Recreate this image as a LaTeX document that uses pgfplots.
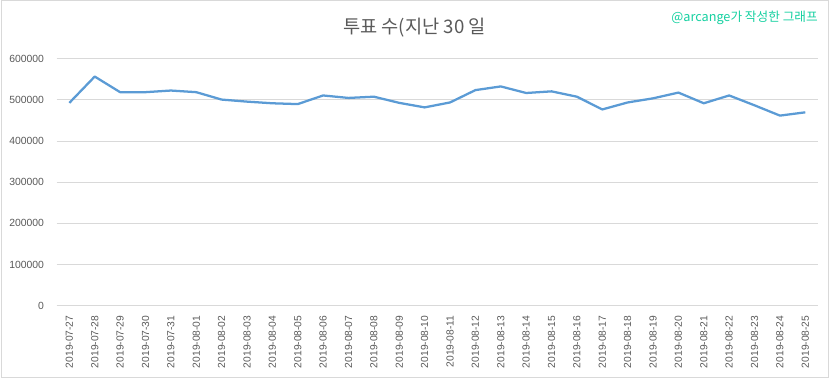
\documentclass[border=0pt]{standalone}
\usepackage{fontspec}
\setmainfont{Liberation Sans}
\newfontfamily\kr{Noto Sans CJK KR}
\usepackage{pgfplots}
\pgfplotsset{compat=1.18}
\usepackage{pgfplotstable}
\definecolor{gridc}{HTML}{D9D9D9}
\definecolor{tickc}{HTML}{595959}
\definecolor{linec}{HTML}{5B9BD5}
\definecolor{notec}{RGB}{20,208,160}
\pgfplotstableread{
x y
0 493000
1 557000
2 519000
3 519000
4 523000
5 519000
6 501000
7 496000
8 492000
9 490000
10 511000
11 505000
12 508000
13 493000
14 482000
15 494000
16 524000
17 533000
18 517000
19 521000
20 508000
21 477000
22 494000
23 504000
24 518000
25 492000
26 511000
27 487000
28 462000
29 470000
}\votes
\begin{document}
\begin{tikzpicture}
\path[use as bounding box] (0,0) rectangle (624pt,284.25pt);
\draw[gridc, line width=0.75pt] (1.1pt,1.1pt) rectangle (621pt,283.5pt);
\node[text=tickc, font=\kr\fontsize{14pt}{16pt}\selectfont] at (310.9pt,263.25pt) {투표 수(지난 30 일};
\node[anchor=east, text=notec, font=\kr\fontsize{9.5pt}{11pt}\selectfont, inner sep=0pt] at (613.5pt,270.75pt) {@arcange가 작성한 그래프};
\begin{axis}[
  at={(42.5pt,55.1pt)}, anchor=south west,
  scale only axis, width=571pt, height=185pt,
  xmin=-0.5, xmax=29.5, ymin=0, ymax=600000,
  ytick={0,100000,200000,300000,400000,500000,600000},
  yticklabels={0,100000,200000,300000,400000,500000,600000},
  scaled y ticks=false,
  xtick={0,...,29},
  xticklabels={2019-07-27,2019-07-28,2019-07-29,2019-07-30,2019-07-31,2019-08-01,2019-08-02,2019-08-03,2019-08-04,2019-08-05,2019-08-06,2019-08-07,2019-08-08,2019-08-09,2019-08-10,2019-08-11,2019-08-12,2019-08-13,2019-08-14,2019-08-15,2019-08-16,2019-08-17,2019-08-18,2019-08-19,2019-08-20,2019-08-21,2019-08-22,2019-08-23,2019-08-24,2019-08-25},
  x tick label style={rotate=90, anchor=east, font=\fontsize{7.7pt}{9pt}\selectfont, text=tickc},
  y tick label style={font=\fontsize{7.8pt}{9pt}\selectfont, text=tickc},
  xtick style={draw=none}, ytick style={draw=none},
  ymajorgrids, grid style={gridc, line width=0.75pt},
  axis x line*=bottom, axis y line*=left,
  x axis line style={gridc, line width=0.75pt, -},
  y axis line style={draw=none},
  xticklabel shift=4pt, yticklabel shift=6pt,
  clip=false,
]
\addplot[linec, line width=1.7pt, line join=round] table[x=x,y=y] {\votes};
\end{axis}
\end{tikzpicture}
\end{document}
